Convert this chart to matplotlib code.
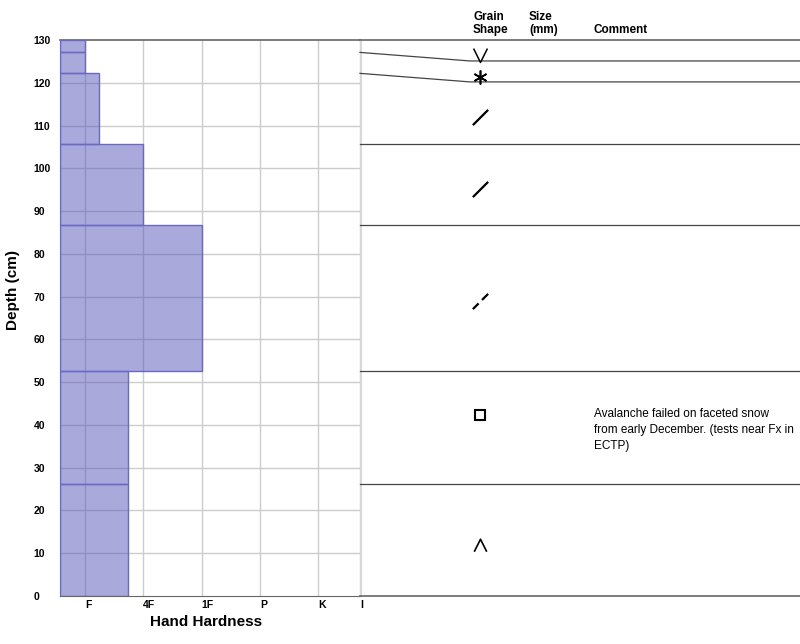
import numpy as np
import matplotlib
matplotlib.use('Agg')
import matplotlib.pyplot as plt
from matplotlib.path import Path

plt.rcParams['font.family'] = ['Liberation Sans', 'DejaVu Sans']

# hardness scale: F=1, 4F=2, 1F=3, P=4, K=5
hardness_labels = ['F', '4F', '1F', 'P', 'K', 'I']
layer_bottoms = [0, 26.2, 52.6, 86.7, 105.8, 122.2, 127.1]
layer_tops = [26.2, 52.6, 86.7, 105.8, 122.2, 127.1, 130]
layer_hardness = [1.74, 1.74, 3, 2, 1.24, 1, 1]

# where each layer boundary is drawn in the grain-shape column
display_bounds = [26.2, 52.6, 86.7, 105.8, 120.2, 125.1]
grain_depths = [12.0, 42.3, 69.0, 95.2, 112.0, 121.3, 126.6]
grain_shapes = ['dh', 'fc', 'df_dash', 'df', 'df', 'pp', 'sh']
comment_depth = 44.0
comment = 'Avalanche failed on faceted snow\nfrom early December. (tests near Fx in\nECTP)'

x_lo, x_hi = 0.571, 5.72
W, H = 800, 644

fig = plt.figure(figsize=(8, 6.44), dpi=100)
ax = fig.add_axes([60 / W, 48 / H, 300 / W, 556 / H])
ax2 = fig.add_axes([360 / W, 48 / H, 440 / W, 556 / H])

line_c = '#666666'
grid_c = '#cccccc'

# hand hardness profile
for b, t, h in zip(layer_bottoms, layer_tops, layer_hardness):
    ax.barh(b, h - x_lo, height=t - b, left=x_lo, align='edge',
            color='#5555bb', alpha=0.5, edgecolor='none', zorder=2)
    ax.barh(b, h - x_lo, height=t - b, left=x_lo, align='edge',
            facecolor='none', edgecolor='#6a6ac4', linewidth=1, zorder=3)

ax.set_xlim(x_lo, x_hi)
ax.set_ylim(0, 130)
ticks = [1, 2, 3, 4, 5, x_hi]
ax.set_xticks(ticks)
ax.set_xticklabels(hardness_labels, fontsize=7.5, fontweight='bold', ha='left')
ax.set_yticks(np.arange(0, 131, 10))
ax.set_yticklabels([str(v) for v in range(0, 131, 10)], fontsize=7.5,
                   fontweight='bold', ha='left')
ax.tick_params(axis='y', length=0, pad=19)
ax.tick_params(axis='x', length=0, pad=3)
for v in range(10, 130, 10):
    ax.axhline(v, color=grid_c, lw=1, zorder=1)
for v in ticks:
    ax.axvline(v, color=grid_c, lw=1, zorder=1)
for s in ['top', 'right']:
    ax.spines[s].set_visible(False)
ax.spines['left'].set_color(line_c)
ax.spines['bottom'].set_color(line_c)

# grain shape / comment column
ax2.set_xlim(0, 440)
ax2.set_ylim(0, 130)
ax2.axis('off')
ax2.axvline(1, color='#d8d8d8', lw=1.5)
for real, disp in zip(layer_bottoms[1:], display_bounds):
    ax2.plot([0, 110, 440], [real, disp, disp], color='#444444', lw=0.9, clip_on=False)
ax2.plot([0, 440], [130, 130], color=line_c, lw=1.2, clip_on=False)
ax2.plot([0, 440], [0, 0], color=line_c, lw=1.2, clip_on=False)
ax.plot([x_lo, x_hi], [130, 130], color=line_c, lw=1.2, clip_on=False)

M, L = Path.MOVETO, Path.LINETO
markers = {
    'sh': Path([(-1, 1), (0, -1), (1, 1)], [M, L, L]),
    'dh': Path([(-1, -1), (0, 1), (1, -1)], [M, L, L]),
    'df': Path([(-1, -1), (1, 1)], [M, L]),
    'df_dash': Path([(-1, -1), (-0.25, -0.25), (0.2, 0.2), (1, 1)], [M, L, M, L]),
    'pp': (6, 2, 0),
    'fc': 's',
}
sizes = {'sh': 10, 'dh': 9, 'df': 11, 'df_dash': 11, 'pp': 10, 'fc': 7}
widths = {'sh': 1.1, 'dh': 1.2, 'df': 1.6, 'df_dash': 1.6, 'pp': 1.2, 'fc': 1.5}
for d, g in zip(grain_depths, grain_shapes):
    ax2.plot(120, d, marker=markers[g], markersize=sizes[g], markeredgewidth=widths[g],
             markeredgecolor='black', markerfacecolor='white', linestyle='none')

ax2.text(234, comment_depth, comment, fontsize=8.5, va='top', ha='left',
         linespacing=1.45, clip_on=False)

fig.text(473 / W, 1 - 11 / H, 'Grain\nShape', fontsize=8.5, fontweight='bold',
         va='top', ha='left', linespacing=1.15)
fig.text(529 / W, 1 - 11 / H, 'Size\n(mm)', fontsize=8.5, fontweight='bold',
         va='top', ha='left', linespacing=1.15)
fig.text(594 / W, 1 - 24 / H, 'Comment', fontsize=8.5, fontweight='bold',
         va='top', ha='left')
fig.text(206 / W, 1 - 622 / H, 'Hand Hardness', fontsize=11, fontweight='bold',
         ha='center', va='center')
fig.text(13 / W, 1 - 290 / H, 'Depth (cm)', fontsize=11, fontweight='bold',
         ha='center', va='center', rotation=90)

fig.savefig('out.png', dpi=100)
